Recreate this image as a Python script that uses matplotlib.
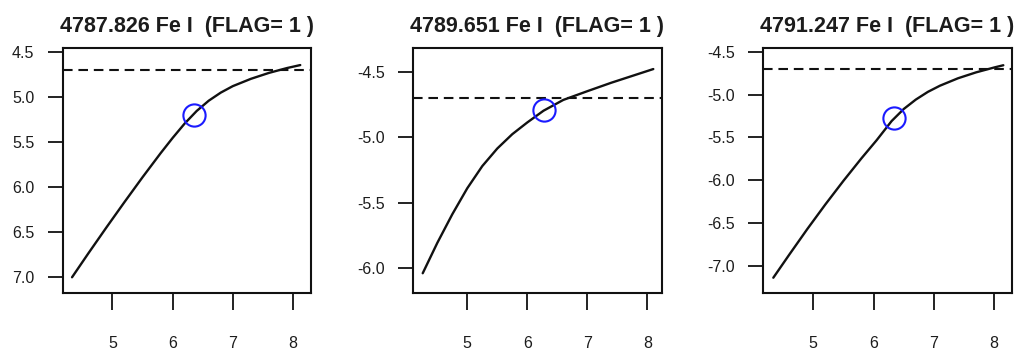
import matplotlib
matplotlib.use("Agg")
import matplotlib.pyplot as plt
from matplotlib.ticker import FuncFormatter

# Curve of growth per line: log(W/lambda) against abundance
titles = ["4787.826 Fe I  (FLAG= 1 )",
          "4789.651 Fe I  (FLAG= 1 )",
          "4791.247 Fe I  (FLAG= 1 )"]

abund_1 = [4.33, 4.6, 4.9, 5.2, 5.5, 5.8, 6.0, 6.2, 6.4, 6.6, 6.8, 7.0, 7.3, 7.6, 7.9, 8.12]
logw_1 = [-7.000, -6.735, -6.447, -6.165, -5.889, -5.622, -5.452, -5.292, -5.152, -5.038,
          -4.948, -4.876, -4.795, -4.729, -4.675, -4.642]

abund_2 = [4.257, 4.5, 4.75, 5.0, 5.25, 5.5, 5.75, 6.0, 6.27, 6.6, 7.0, 7.4, 7.8, 8.1]
logw_2 = [-6.043, -5.810, -5.590, -5.390, -5.220, -5.085, -4.975, -4.885, -4.795, -4.712,
          -4.645, -4.580, -4.520, -4.475]

abund_3 = [4.337, 4.6, 4.9, 5.2, 5.5, 5.8, 6.05, 6.3, 6.5, 6.7, 6.9, 7.1, 7.4, 7.7, 8.0, 8.151]
logw_3 = [-7.140, -6.872, -6.572, -6.284, -6.008, -5.744, -5.534, -5.309, -5.169, -5.059,
          -4.969, -4.897, -4.810, -4.741, -4.684, -4.658]

# Measured line: fitted abundance and observed log(W/lambda)
meas_abund = [6.348, 6.273, 6.343]
meas_logw = [-5.197, -4.790, -5.271]

ref_level = -4.7

x_ticks = [5, 6, 7, 8]
y_ticks_1 = [-4.5, -5.0, -5.5, -6.0, -6.5, -7.0]
y_ticks_2 = [-4.5, -5.0, -5.5, -6.0]
y_ticks_3 = [-4.5, -5.0, -5.5, -6.0, -6.5, -7.0]

curves = [(abund_1, logw_1, y_ticks_1), (abund_2, logw_2, y_ticks_2), (abund_3, logw_3, y_ticks_3)]
xlims = [(4.175, 8.30), (4.10, 8.24), (4.171, 8.29)]
ylims = [(-7.178, -4.449), (-6.197, -4.311), (-7.322, -4.453)]
lefts = [62.7, 413.3, 763.3]

W, H = 1019, 353
fig = plt.figure(figsize=(W / 100, H / 100), dpi=100)
plt.rcParams['font.family'] = ['Liberation Sans', 'DejaVu Sans']
plt.rcParams['axes.unicode_minus'] = False

ink = "#111111"
text_col = "#1c1c1c"
for i, (xs, ys, yt) in enumerate(curves):
    ax = fig.add_axes([lefts[i] / W, (H - 293.3) / H, 248.4 / W, 245.6 / H])
    ax.plot(xs, ys, color=ink, lw=1.7, solid_capstyle="round", solid_joinstyle="round")
    ax.axhline(ref_level, color=ink, lw=1.5, dashes=(4.6, 2.8))
    ax.plot([meas_abund[i]], [meas_logw[i]], marker="o", ms=16, mfc="none",
            mec="#1a1aff", mew=1.5, linestyle="none")
    ax.set_xlim(*xlims[i])
    ax.set_ylim(*ylims[i])
    ax.set_xticks(x_ticks)
    ax.set_yticks(yt)
    if i == 0:
        ax.yaxis.set_major_formatter(FuncFormatter(lambda v, p: f"{abs(v):.1f}"))
    else:
        ax.yaxis.set_major_formatter(FuncFormatter(lambda v, p: f"{v:.1f}"))
    ax.tick_params(axis="x", length=12.5, width=1.3, pad=18, labelsize=11.5, colors=ink,
                   labelcolor=text_col)
    ax.tick_params(axis="y", length=11, width=1.3, pad=9.5, labelsize=11.5, colors=ink,
                   labelcolor=text_col)
    for s in ax.spines.values():
        s.set_linewidth(1.5)
        s.set_color(ink)
    ax.set_title(titles[i], fontsize=15.5, fontweight="bold", color=text_col, pad=11)

fig.savefig("out.png", dpi=100)
